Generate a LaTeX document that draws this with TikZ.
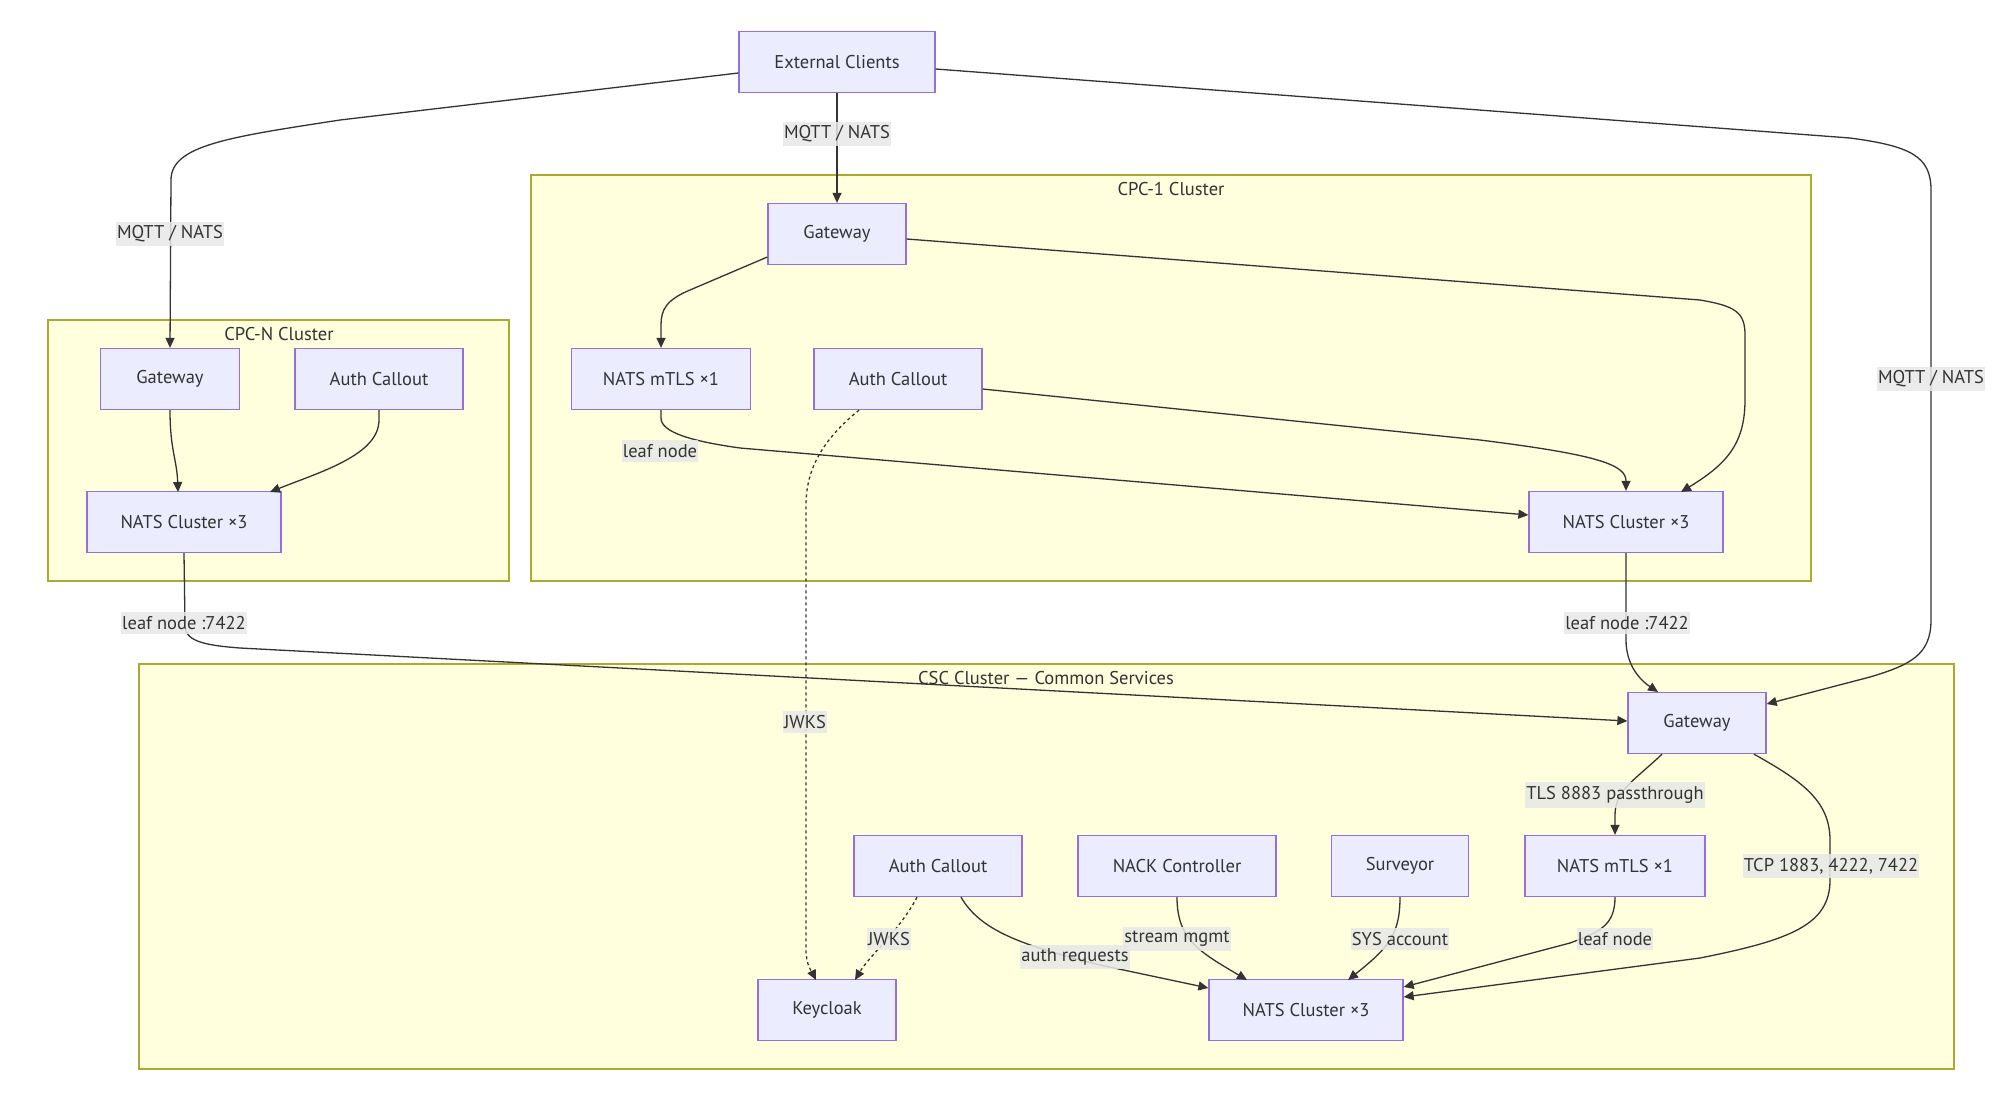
\documentclass[tikz,border=0pt]{standalone}
\usepackage{fontspec}
\setmainfont{PT Sans}
\usetikzlibrary{arrows.meta}
\definecolor{nodefill}{HTML}{ECECFF}
\definecolor{nodedraw}{HTML}{9370DB}
\definecolor{clfill}{HTML}{FFFFDE}
\definecolor{cldraw}{HTML}{AAAA33}
\definecolor{lblfill}{HTML}{E8E8E8}
\definecolor{ink}{HTML}{333333}
\tikzset{
  box/.style={draw=nodedraw, fill=nodefill, line width=1.3pt, minimum height=61pt, inner sep=0pt, text=ink, font=\fontsize{18.5}{22}\selectfont},
  cluster/.style={draw=cldraw, fill=clfill, line width=1.3pt},
  cltitle/.style={text=ink, font=\fontsize{18.5}{22}\selectfont},
  lbl/.style={fill=lblfill, fill opacity=0.85, text opacity=1, text=ink, inner xsep=1pt, inner ysep=4pt, font=\fontsize{18.5}{22}\selectfont},
  edge/.style={draw=ink, line width=1.3pt, -{Triangle[length=10pt,width=9pt]}},
  dotedge/.style={edge, dash pattern=on 3pt off 3pt},
}
\begin{document}
\begin{tikzpicture}[x=1pt, y=-1pt]
\fill[white] (0,0) rectangle (2000,1112);
\useasboundingbox (0,0) rectangle (2000,1112);

% clusters
\draw[cluster] (48,320) rectangle (509,581);
\node[cltitle] (tn) at (279,334) {CPC-N Cluster};
\draw[cluster] (531,175) rectangle (1811,581);
\node[cltitle] (t1) at (1171,189) {CPC-1 Cluster};
\draw[cluster] (139,664) rectangle (1954,1069);
\node[cltitle] (tc) at (1046,678) {CSC Cluster — Common Services};

% nodes
\node[box, minimum width=196pt] (ext) at (837,62) {External Clients};
\node[box, minimum width=138pt] (gw1) at (837,234) {Gateway};
\node[box, minimum width=179pt] (mtls1) at (661,379) {NATS mTLS ×1};
\node[box, minimum width=168pt] (ac1) at (898,379) {Auth Callout};
\node[box, minimum width=194pt] (ncl1) at (1626,522) {NATS Cluster ×3};

\node[box, minimum width=139pt] (gwn) at (170,379) {Gateway};
\node[box, minimum width=168pt] (acn) at (379,379) {Auth Callout};
\node[box, minimum width=194pt] (ncln) at (184,522) {NATS Cluster ×3};

\node[box, minimum width=138pt] (gwc) at (1697,723) {Gateway};
\node[box, minimum width=180pt] (mtlsc) at (1615,866) {NATS mTLS ×1};
\node[box, minimum width=168pt] (acc) at (938,866) {Auth Callout};
\node[box, minimum width=198pt] (nack) at (1177,866) {NACK Controller};
\node[box, minimum width=137pt] (surv) at (1400,866) {Surveyor};
\node[box, minimum width=138pt] (kc) at (827,1010) {Keycloak};
\node[box, minimum width=194pt] (nclc) at (1306,1010) {NATS Cluster ×3};

% edges
\draw[edge] ([yshift=-11pt]ext.west) -- (340,120) .. controls (230,137) and (171,145) .. (171,180) -- (gwn.north);
\draw[edge] (ext.south) -- (gw1.north);
\draw[edge] ([yshift=-7pt]ext.east) -- (1850,138) .. controls (1910,146) and (1931,156) .. (1931,190) -- (1931,620) .. controls (1931,655) and (1910,665) .. (1870,677) -- ([yshift=19pt]gwc.east);

\draw[edge] ([yshift=-23pt]gw1.west) -- (690,290) .. controls (666,300) and (661,310) .. (661,325) -- (mtls1.north);
\draw[edge] ([yshift=-5pt]gw1.east) -- (1700,300) .. controls (1735,306) and (1745,312) .. (1745,335) -- (1745,400) .. controls (1745,445) and (1725,465) .. (1681,492);
\draw[edge] (mtls1.south) -- (661,418) .. controls (661,432) and (690,441) .. (740,448) -- ([yshift=7pt]ncl1.west);
\draw[edge] ([yshift=-10pt]ac1.east) -- (1480,440) .. controls (1600,455) and (1626,465) .. (ncl1.north);
\draw[dotedge] ([xshift=-39pt]ac1.south) .. controls (822,440) and (806,470) .. (806,505) -- (806,950) .. controls (806,965) and (812,972) .. (816,980);

\draw[edge] (gwn.south) .. controls (170,450) and (177,460) .. (178,492);
\draw[edge] (acn.south) -- (379,420) .. controls (379,455) and (320,472) .. (270,492);

\draw[edge] (ncln.south) -- (185,625) .. controls (185,640) and (200,645) .. (240,648) -- ([yshift=2pt]gwc.west);
\draw[edge] (ncl1.south) -- (1626,640) .. controls (1626,665) and (1640,680) .. (1658,692);

\draw[edge] ([xshift=-35pt]gwc.south) .. controls (1635,780) and (1615,790) .. (1615,815) -- (mtlsc.north);
\draw[edge] ([xshift=57pt]gwc.south) .. controls (1800,780) and (1830,800) .. (1830,840) -- (1830,880) .. controls (1830,925) and (1790,940) .. (1700,958) -- ([yshift=13pt]nclc.east);
\draw[edge] (mtlsc.south) .. controls (1615,925) and (1600,932) .. (1570,943) -- ([yshift=23pt]nclc.east);
\draw[edge] (surv.south) .. controls (1400,935) and (1388,948) .. (1348,980);
\draw[edge] (nack.south) .. controls (1177,940) and (1200,952) .. (1247,980);
\draw[edge] ([xshift=23pt]acc.south) .. controls (980,930) and (1020,945) .. (1100,965) -- ([yshift=22pt]nclc.west);
\draw[dotedge] ([xshift=-21pt]acc.south) .. controls (900,930) and (870,955) .. (855,980);

% edge labels
\node[lbl] (l1) at (170,234) {MQTT / NATS};
\node[lbl] (l2) at (837,134) {MQTT / NATS};
\node[lbl] (l3) at (1931,379) {MQTT / NATS};
\node[lbl] (l4) at (660,451) {leaf node};
\node[lbl] (l5) at (805,722) {JWKS};
\node[lbl] (l6) at (184,623) {leaf node :7422};
\node[lbl] (l7) at (1627,623) {leaf node :7422};
\node[lbl] (l8) at (1615,795) {TLS 8883 passthrough};
\node[lbl] (l9) at (1831,866) {TCP 1883, 4222, 7422};
\node[lbl] (l10) at (889,939) {JWKS};
\node[lbl] (l11) at (1075,957) {auth requests};
\node[lbl] (l12) at (1177,939) {stream mgmt};
\node[lbl] (l13) at (1400,939) {SYS account};
\node[lbl] (l14) at (1615,939) {leaf node};
\end{tikzpicture}
\end{document}
